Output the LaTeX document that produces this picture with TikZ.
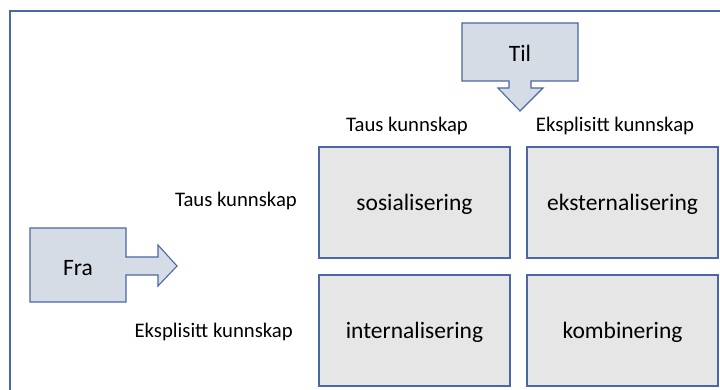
\documentclass[tikz,border=0pt]{standalone}
\usepackage{fontspec}
\setmainfont{Carlito}
\definecolor{edge}{HTML}{4A68A6}
\definecolor{boxfill}{HTML}{E6E6E6}
\definecolor{arrowfill}{HTML}{D6DCE5}
\tikzset{
  cell/.style={draw=edge, line width=1.1pt, fill=boxfill, minimum width=191pt, minimum height=111pt, inner sep=0pt, text height=20pt, text depth=4pt, font=\fontsize{23.5}{28}\selectfont},
  lbl/.style={inner sep=0pt, font=\fontsize{20.7}{25}\selectfont},
  arrowshape/.style={draw=edge, line width=1.1pt, fill=arrowfill, line join=miter},
  arrowtext/.style={inner sep=0pt, font=\fontsize{23.5}{28}\selectfont}
}
\begin{document}
\begin{tikzpicture}[x=1pt,y=-1pt]
\useasboundingbox (0,0) rectangle (720,390);
\fill[white] (0,0) rectangle (720,390);
\draw[edge, line width=1.6pt] (10,391) -- (10,11) -- (721,11);

% Til arrow
\draw[arrowshape] (462,23) -- (578,23) -- (578,81) -- (531,81) -- (531,88) -- (543,88) -- (520,111) -- (498,88) -- (509,88) -- (509,81) -- (462,81) -- cycle;
\node[arrowtext] (til) at (520,53) {Til};

% Fra arrow
\draw[arrowshape] (30,228) -- (126,228) -- (126,257) -- (158,257) -- (158,245) -- (177,266) -- (158,286) -- (158,275) -- (126,275) -- (126,302) -- (30,302) -- cycle;
\node[arrowtext] (fra) at (78,268) {Fra};

% column labels
\node[lbl] (ctaus) at (407,126) {Taus kunnskap};
\node[lbl] (ceks) at (615,126) {Eksplisitt kunnskap};
% row labels
\node[lbl, anchor=east] (rtaus) at (297,201) {Taus kunnskap};
\node[lbl, anchor=east] (reks) at (293,332) {Eksplisitt kunnskap};

% cells
\node[cell] (sos) at (414.5,202.5) {sosialisering};
\node[cell] (eks) at (622.5,202.5) {eksternalisering};
\node[cell] (int) at (414.5,330.5) {internalisering};
\node[cell] (kom) at (622.5,330.5) {kombinering};
\end{tikzpicture}
\end{document}
